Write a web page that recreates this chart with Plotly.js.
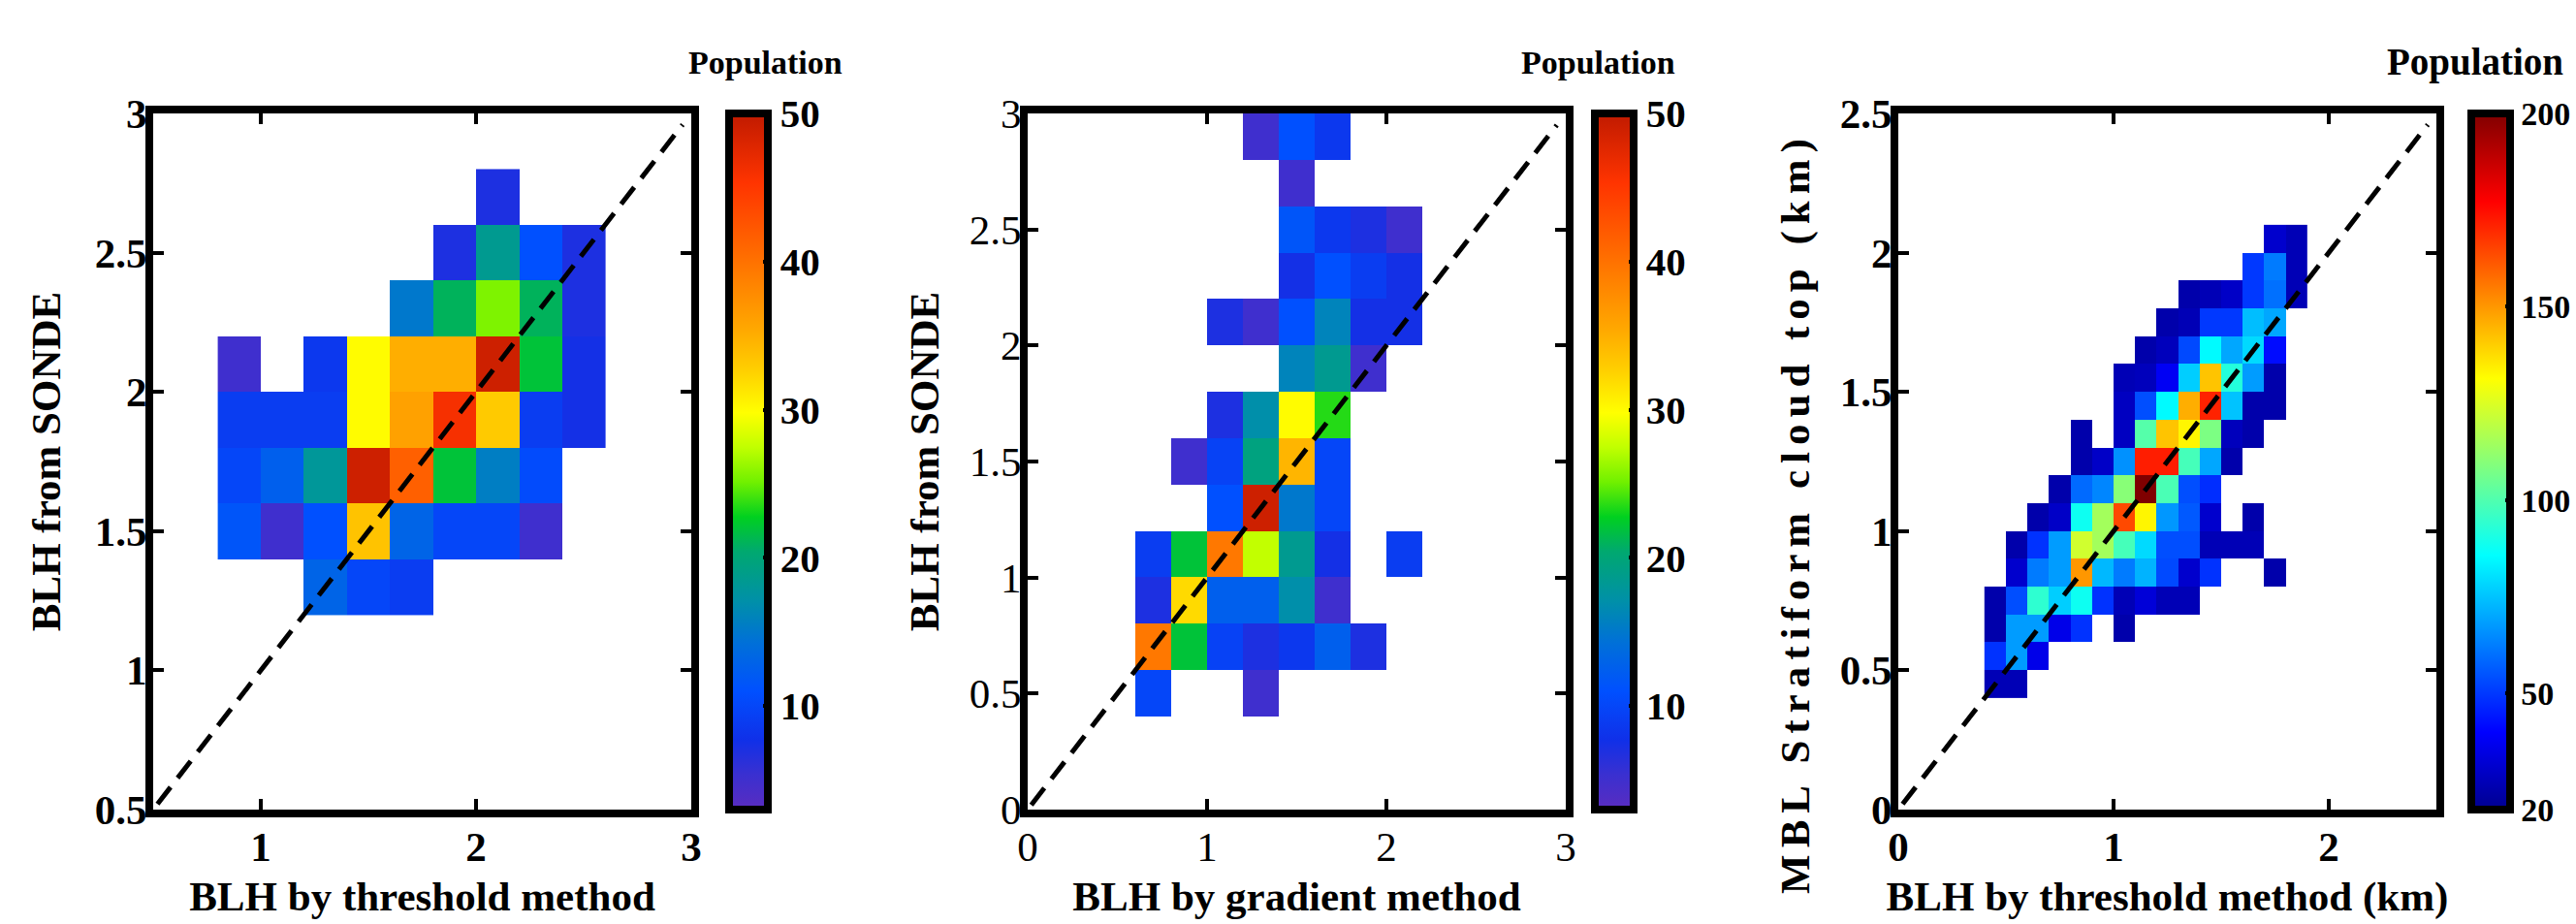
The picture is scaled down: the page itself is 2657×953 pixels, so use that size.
<!DOCTYPE html>
<html>
<head>
<meta charset="utf-8">
<script src="https://cdn.plot.ly/plotly-3.0.1.min.js"></script>
<style>html,body{margin:0;padding:0;background:#fff;}#chart{width:2657px;height:953px;}</style>
</head>
<body>
<div id="chart"></div>
<script>
// ---------------- data ----------------
// Panel 1: BLH by threshold method vs BLH from SONDE (0.2 bins)
const p1_x = [0.9, 1.1, 1.3, 1.5, 1.7, 1.9, 2.1, 2.3, 2.5];
const p1_y = [1.3, 1.5, 1.7, 1.9, 2.1, 2.3, 2.5, 2.7];
const p1_z = [
  [null, null, 13, 10, 9, null, null, null, null],
  [11.5, 5, 11, 33.5, 13, 10, 10, 5, null],
  [10, 12.5, 18, 49, 41.5, 22, 15.5, 10.5, null],
  [9, 9, 9, 30, 36, 46, 33, 9, 7.5],
  [5, null, 8.5, 30, 35, 35, 49, 22, 7.5],
  [null, null, null, null, 15, 21, 25.5, 21, 7],
  [null, null, null, null, null, 7, 18.5, 11, 7],
  [null, null, null, null, null, null, 7, null, null]
];
// Panel 2: BLH by gradient method vs BLH from SONDE (0.2 bins)
const p2_x = [0.7, 0.9, 1.1, 1.3, 1.5, 1.7, 1.9, 2.1];
const p2_y = [0.5, 0.7, 0.9, 1.1, 1.3, 1.5, 1.7, 1.9, 2.1, 2.3, 2.5, 2.7, 2.9];
const p2_z = [
  [10, null, null, 5, null, null, null, null],
  [39.5, 22, 9.5, 7, 8.5, 12.5, 7, null],
  [7, 32, 12.5, 12.5, 17, 5, null, null],
  [9, 22, 39.5, 27.5, 18.5, 7.5, null, 9],
  [null, null, 11, 49, 15, 10, null, null],
  [null, 5, 9.5, 19.5, 34.5, 10, null, null],
  [null, null, 7, 17, 30, 23.5, null, null],
  [null, null, null, null, 16, 18.5, 5, null],
  [null, null, 7, 5, 11, 16, 7.5, 7.5],
  [null, null, null, null, 7.5, 11, 9, 7.5],
  [null, null, null, null, 11.5, 8.5, 7, 5],
  [null, null, null, null, 5, null, null, null],
  [null, null, null, 5, 11, 8.5, null, null]
];
// Panel 3: BLH by threshold method vs MBL stratiform cloud top (0.1 bins)
const p3_x = [0.45, 0.55, 0.65, 0.75, 0.85, 0.95, 1.05, 1.15, 1.25, 1.35, 1.45, 1.55, 1.65, 1.75, 1.85];
const p3_y = [0.45, 0.55, 0.65, 0.75, 0.85, 0.95, 1.05, 1.15, 1.25, 1.35, 1.45, 1.55, 1.65, 1.75, 1.85, 1.95, 2.05];
const p3_z = [
  [27, 27, null, null, null, null, null, null, null, null, null, null, null, null, null],
  [49, 68, 36, null, null, null, null, null, null, null, null, null, null, null, null],
  [25, 68, 68, 36, 49, null, 25, null, null, null, null, null, null, null, null],
  [25, 54, 94, 77, 88, 49, 27, 33, 27, 27, null, null, null, null, null],
  [null, 31, 62, 68, 150, 73, 62, 72, 53, 31, 49, null, null, 25, null],
  [null, 25, 49, 68, 123, 115, 98, 79, 54, 54, 27, 27, 27, null, null],
  [null, null, 25, 30, 88, 115, 164, 133, 67, 56, 31, null, 25, null, null],
  [null, null, null, 25, 59, 64, 110, 200, 99, 54, 48, null, null, null, null],
  [null, null, null, null, 25, 30, 66, 172, 172, 98, 70, 25, null, null, null],
  [null, null, null, null, 25, null, 29, 101, 142, 133, 108, 28, 25, null, null],
  [null, null, null, null, null, null, 29, 54, 85, 146, 171, 75, 25, 25, null],
  [null, null, null, null, null, null, 27, 28, 38, 77, 142, 92, 68, 25, null],
  [null, null, null, null, null, null, null, 25, 28, 53, 85, 70, 79, 42, null],
  [null, null, null, null, null, null, null, null, 25, 27, 50, 50, 74, 70, null],
  [null, null, null, null, null, null, null, null, null, 25, 27, 30, 50, 60, 27],
  [null, null, null, null, null, null, null, null, null, null, null, null, 50, 62, 27],
  [null, null, null, null, null, null, null, null, null, null, null, null, null, 31, 27]
];
// 1:1 reference lines
const d1_x = [0.52, 2.96], d1_y = [0.52, 2.96];
const d2_x = [0.02, 2.95], d2_y = [0.02, 2.95];
const d3_x = [0.02, 2.46], d3_y = [0.02, 2.46];
// tick labels
const p1_xticks = [1, 2, 3], p1_yticks = [0.5, 1, 1.5, 2, 2.5, 3];
const p2_xticks = [0, 1, 2, 3], p2_yticks = [0, 0.5, 1, 1.5, 2, 2.5, 3];
const p3_xticks = [0, 1, 2], p3_yticks = [0, 0.5, 1, 1.5, 2, 2.5];
const cb12_ticks = [10, 20, 30, 40, 50];
const cb3_ticks = [20, 50, 100, 150, 200];

// ---------------- styling ----------------
const W = 2657, H = 953;
const px = v => v / W;
const py = v => 1 - v / H;
const FONT = 'Liberation Serif, Times New Roman, serif';

const csCustom = [
  [0.00, '#5a2cc0'], [0.05, '#3a30d0'], [0.10, '#1030e8'], [0.17, '#0050ff'],
  [0.24, '#0070d8'], [0.30, '#0090a8'], [0.37, '#00a870'], [0.42, '#00d020'],
  [0.47, '#70f000'], [0.52, '#c0ff00'], [0.57, '#ffff00'], [0.63, '#ffd000'],
  [0.69, '#ffa800'], [0.79, '#ff7000'], [0.90, '#ff3400'], [1.00, '#c01a00']
];
const csJet = [
  [0.000, 'rgb(0,0,143)'], [0.111, 'rgb(0,0,255)'], [0.365, 'rgb(0,255,255)'],
  [0.619, 'rgb(255,255,0)'], [0.873, 'rgb(255,0,0)'], [1.000, 'rgb(128,0,0)']
];

const plotTop = 117, plotBot = 835;
const yDom = [py(plotBot), py(plotTop)];

function cbar(xLeft, tickvals, fsize) {
  return {
    x: px(xLeft), xanchor: 'left', xpad: 0, xref: 'paper',
    y: (yDom[0] + yDom[1]) / 2, yanchor: 'middle', ypad: 0,
    len: plotBot - plotTop, lenmode: 'pixels',
    thickness: 40, thicknessmode: 'pixels',
    outlinewidth: 8, outlinecolor: '#000',
    ticks: 'inside', ticklen: 9, tickwidth: 4, tickcolor: '#000',
    tickvals: tickvals, ticktext: tickvals.map(String),
    tickfont: {family: FONT, size: fsize, color: '#000', weight: 'bold'},
    showticklabels: true
  };
}

function heat(x, y, z, xa, ya, cs, cmin, cmax, cb) {
  return {type: 'heatmap', x: x, y: y, z: z, xaxis: xa, yaxis: ya,
    colorscale: cs, zmin: cmin, zmax: cmax, zauto: false, colorbar: cb,
    hoverinfo: 'skip', xgap: 0, ygap: 0, zsmooth: false};
}
function diag(x, y, xa, ya) {
  return {type: 'scatter', mode: 'lines', x: x, y: y, xaxis: xa, yaxis: ya,
    line: {color: '#000', width: 5, dash: '22px,12px'}, hoverinfo: 'skip', showlegend: false};
}

const data = [
  heat(p1_x, p1_y, p1_z, 'x', 'y', csCustom, 3, 50, cbar(752, cb12_ticks, 41)),
  diag(d1_x, d1_y, 'x', 'y'),
  heat(p2_x, p2_y, p2_z, 'x2', 'y2', csCustom, 3, 50, cbar(1645, cb12_ticks, 41)),
  diag(d2_x, d2_y, 'x2', 'y2'),
  heat(p3_x, p3_y, p3_z, 'x3', 'y3', csJet, 20, 200, cbar(2549, cb3_ticks, 34)),
  diag(d3_x, d3_y, 'x3', 'y3')
];

function axis(domain, range, tickvals, anchor, bold, title, tsize, standoff, isY) {
  return {
    domain: domain, range: range, anchor: anchor, autorange: false,
    tickmode: 'array', tickvals: tickvals, ticktext: tickvals.map(String),
    ticks: 'inside', ticklen: 11, tickwidth: 4, tickcolor: '#000',
    ticklabelstandoff: isY ? -10 : -7,
    showline: true, linewidth: 8, linecolor: '#000', mirror: 'allticks',
    showgrid: false, zeroline: false, automargin: false,
    tickfont: {family: FONT, size: 43, color: '#000', weight: bold ? 'bold' : 'normal'},
    title: {text: title, standoff: standoff,
      font: {family: FONT, size: tsize, color: '#000', weight: 'bold'}}
  };
}

const layout = {
  width: W, height: H,
  margin: {l: 0, r: 0, t: 0, b: 0, pad: 0, autoexpand: false},
  paper_bgcolor: '#fff', plot_bgcolor: '#fff',
  showlegend: false,
  font: {family: FONT, color: '#000'},
  xaxis:  axis([px(158), px(713)], [0.5, 3], p1_xticks, 'y', true, 'BLH by threshold method', 43, 16, false),
  yaxis:  axis(yDom, [0.5, 3], p1_yticks, 'x', true, 'BLH from SONDE', 43, 25, true),
  xaxis2: axis([px(1060), px(1615)], [0, 3], p2_xticks, 'y2', false, 'BLH by gradient method', 43, 16, false),
  yaxis2: axis(yDom, [0, 3], p2_yticks, 'x2', false, 'BLH from SONDE', 43, 21, true),
  xaxis3: axis([px(1958), px(2513)], [0, 2.5], p3_xticks, 'y3', true, 'BLH by threshold method (km)', 43, 16, false),
  yaxis3: axis(yDom, [0, 2.5], p3_yticks, 'x3', true, 'MBL Stratiform cloud top (km)', 43, 21, true),
  annotations: [
    {text: 'Population', xref: 'paper', yref: 'paper', x: px(708), y: py(64), xanchor: 'left', yanchor: 'middle',
     showarrow: false, font: {family: FONT, size: 34, color: '#000', weight: 'bold'}},
    {text: 'Population', xref: 'paper', yref: 'paper', x: px(1567), y: py(64), xanchor: 'left', yanchor: 'middle',
     showarrow: false, font: {family: FONT, size: 34, color: '#000', weight: 'bold'}},
    {text: 'Population', xref: 'paper', yref: 'paper', x: px(2460), y: py(64), xanchor: 'left', yanchor: 'middle',
     showarrow: false, font: {family: FONT, size: 39, color: '#000', weight: 'bold'}}
  ]
};

Plotly.newPlot('chart', data, layout, {displayModeBar: false, staticPlot: true}).then(gd => {
  // the reference draws the third y-axis title with wide letter spacing,
  // centred somewhat below the middle of the plot
  const t = gd.querySelector('.g-y3title text');
  if (t) {
    t.style.letterSpacing = '7px';
    const tr = t.getAttribute('transform') || '';
    t.setAttribute('transform', 'translate(0,53) ' + tr);
  }
});
</script>
</body>
</html>
